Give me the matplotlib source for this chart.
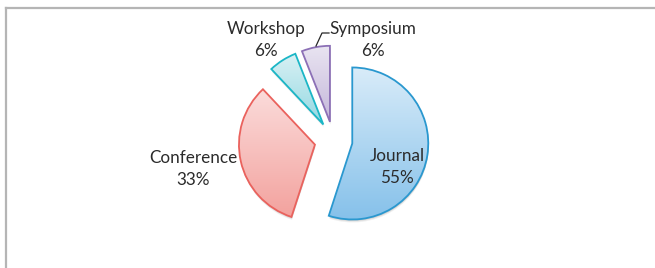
import numpy as np
import matplotlib
matplotlib.use("Agg")
import matplotlib.pyplot as plt
from matplotlib.colors import LinearSegmentedColormap
from matplotlib.lines import Line2D
from matplotlib.patches import Wedge

categories = ["Journal", "Conference", "Workshop", "Symposium"]
values = [55, 33, 6, 6]
labels = ["Journal\n55%", "Conference\n33%", "Workshop\n6%", "Symposium\n6%"]

top_colors = ["#d9ecf9", "#fbdcdb", "#d9f1f4", "#e9e4f1"]
bottom_colors = ["#86c1ea", "#f3a29e", "#94d8e2", "#c4b7da"]
edge_colors = ["#2a98cf", "#ea625d", "#1bb6c6", "#8c70b6"]

W, H = 655, 268
fig = plt.figure(figsize=(W / 100, H / 100), dpi=100)
ax = fig.add_axes([0, 0, 1, 1])
ax.set_xlim(0, W)
ax.set_ylim(0, H)
ax.set_aspect("equal")
ax.axis("off")

cx, cy, r = 333.5, H - 140.5, 76
wedges, _ = ax.pie(values, startangle=90, counterclock=False, center=(cx, cy),
                   radius=r, explode=[19] * 4, frame=False,
                   wedgeprops=dict(linewidth=1.3))
ax.set_xlim(0, W)
ax.set_ylim(0, H)

grad = np.linspace(0, 1, 256).reshape(-1, 1)
for w, tc, bc, ec in zip(wedges, top_colors, bottom_colors, edge_colors):
    w.set_facecolor("none")
    w.set_edgecolor(ec)
    w.set_zorder(3)
    # soft drop shadow
    for k, a in [(3.0, 0.06), (2.0, 0.08), (1.0, 0.1)]:
        sh = Wedge((w.center[0] + 0.5, w.center[1] - k), w.r, w.theta1, w.theta2,
                   facecolor="#000000", edgecolor="none", alpha=a, zorder=1.5)
        ax.add_patch(sh)
    bb = w.get_path().get_extents(w.get_transform())
    inv = ax.transData.inverted()
    (x0, y0), (x1, y1) = inv.transform([[bb.x0, bb.y0], [bb.x1, bb.y1]])
    cmap = LinearSegmentedColormap.from_list("g", [tc, bc])
    im = ax.imshow(grad, cmap=cmap, extent=(x0, x1, y0, y1), origin="upper",
                   aspect="auto", zorder=2, interpolation="bilinear")
    im.set_clip_path(w)

font = dict(family=["Lato", "DejaVu Sans"], fontsize=12.3, color="#2b2b2b",
            ha="center", va="center", linespacing=1.45)
label_pos = [(397, H - 167), (193, H - 169), (266, H - 40), (373, H - 40)]
for lab, (x, y) in zip(labels, label_pos):
    ax.text(x, y, lab, zorder=5, **font)

# leader line for Symposium
ax.add_line(Line2D([316, 322, 329], [H - 46, H - 33, H - 33], color="#262626",
                   lw=0.9, zorder=4))

# chart-area border (partial)
ax.add_line(Line2D([6, W], [H - 8, H - 8], color="#b5b5b5", lw=1.6, zorder=1))
ax.add_line(Line2D([6, 6], [H - 8, 0], color="#b5b5b5", lw=1.6, zorder=1))

fig.savefig("out.png", dpi=100)
